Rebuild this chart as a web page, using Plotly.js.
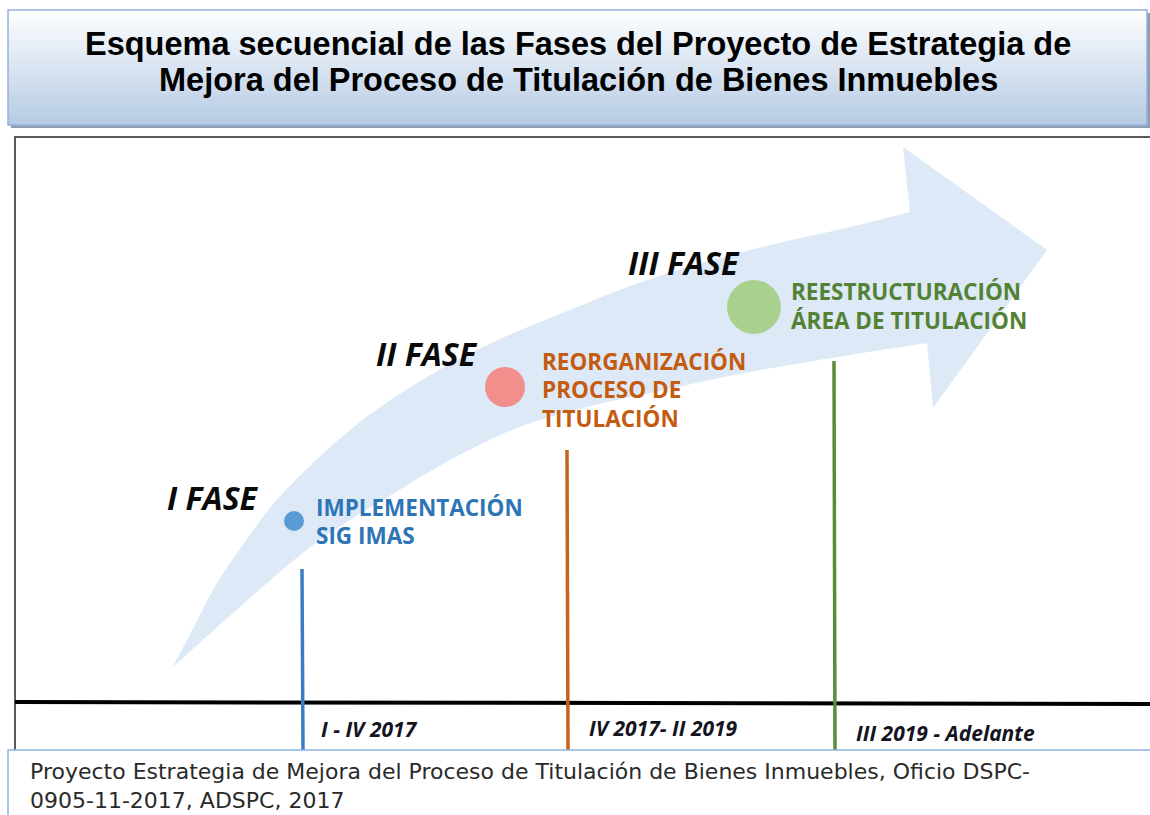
<!DOCTYPE html>
<html>
<head>
<meta charset="utf-8">
<script src="https://cdn.plot.ly/plotly-3.0.1.min.js"></script>
<style>
  html, body { margin: 0; padding: 0; background: #ffffff; }
  #chart { width: 1150px; height: 815px; }
</style>
</head>
<body>
<div id="chart"></div>
<script>
// ---------------- DATA ----------------
const titleLines = [
  "Esquema secuencial de las Fases del Proyecto de Estrategia de",
  "Mejora del Proceso de Titulación de Bienes Inmuebles"
];
const phases = ["I FASE", "II FASE", "III FASE"];
const actions = [
  ["IMPLEMENTACIÓN", "SIG IMAS"],
  ["REORGANIZACIÓN", "PROCESO DE", "TITULACIÓN"],
  ["REESTRUCTURACIÓN", "ÁREA DE TITULACIÓN"]
];
const periods = ["I - IV 2017", "IV 2017- II 2019", "III 2019 - Adelante"];
const sourceLines = [
  "Proyecto Estrategia de Mejora del Proceso de Titulación de Bienes Inmuebles, Oficio DSPC-",
  "0905-11-2017, ADSPC, 2017"
];

// ---------------- LAYOUT / STYLE CONFIG ----------------
const W = 1150, H = 815;
const dotPos = [[294, 521], [505, 387], [754, 307]];
const dotSize = [20, 40, 54];
const dotColors = ["#5b9bd5", "#f28e8c", "#a9d18e"];
const textColors = ["#2e75b6", "#c55a11", "#548235"];
const stemColors = ["#3b7dc0", "#c8621f", "#5b8c3a"];
const phasePos = [[165, 497], [374, 353], [626, 262]];
const actionPos = [[314, 507], [540, 361], [789, 291]];
const actionGap = [28, 28.5, 29];
const stemX = [302, 567, 834];
const stemTop = [569, 450, 361];
const stemBottom = 750;
const periodPos = [[319, 729], [587, 728], [854, 733]];

const arrowOuter = [[172,668],[195,625],[217,583],[250,535],[283,493],[350,430],[417,383],[483,347],[550,318],[650,279],[750,250],[850,227],[910,212]];
const arrowHead = [[903,147],[1047,250],[933,408],[927,343]];
const arrowInner = [[927,343],[850,355],[750,372],[650,393],[583,408],[517,428],[450,460],[383,500],[317,542],[250,598],[172,668]];

function smooth(pts) {
  let d = "";
  for (let i = 0; i < pts.length - 1; i++) {
    const p0 = pts[i - 1] || pts[i], p1 = pts[i], p2 = pts[i + 1], p3 = pts[i + 2] || pts[i + 1];
    const c1 = [p1[0] + (p2[0] - p0[0]) / 6, p1[1] + (p2[1] - p0[1]) / 6];
    const c2 = [p2[0] - (p3[0] - p1[0]) / 6, p2[1] - (p3[1] - p1[1]) / 6];
    d += ` C ${c1[0]},${c1[1]} ${c2[0]},${c2[1]} ${p2[0]},${p2[1]}`;
  }
  return d;
}
let arrowPath = `M ${arrowOuter[0][0]},${arrowOuter[0][1]}` + smooth(arrowOuter);
arrowHead.forEach(p => { arrowPath += ` L ${p[0]},${p[1]}`; });
arrowPath += smooth(arrowInner) + " Z";

const shapes = [];
// title box shadow
shapes.push({type: "rect", xref: "x", yref: "y", x0: 11, x1: 1151, y0: 13, y1: 128, fillcolor: "#8e9cae", line: {width: 0}, layer: "below"});
// gradient title box (strips)
const gTop = [253, 254, 255], gBot = [182, 203, 228];
const bx0 = 8, bx1 = 1147, by0 = 10, by1 = 125, nStrips = 46;
for (let i = 0; i < nStrips; i++) {
  const t = i / (nStrips - 1);
  const c = gTop.map((v, k) => Math.round(v + (gBot[k] - v) * t));
  const y0 = by0 + (by1 - by0) * i / nStrips, y1 = by0 + (by1 - by0) * (i + 1) / nStrips + 0.6;
  shapes.push({type: "rect", xref: "x", yref: "y", x0: bx0, x1: bx1, y0: y0, y1: y1,
    fillcolor: `rgb(${c[0]},${c[1]},${c[2]})`, line: {width: 0}, layer: "below"});
}
shapes.push({type: "rect", xref: "x", yref: "y", x0: bx0, x1: bx1, y0: by0, y1: by1, fillcolor: "rgba(0,0,0,0)", line: {color: "#95b3d7", width: 1.5}, layer: "below"});
// main panel border
shapes.push({type: "rect", xref: "x", yref: "y", x0: 15, x1: 1156, y0: 137, y1: 830, fillcolor: "#ffffff", line: {color: "#5a5a5a", width: 2}, layer: "below"});
// arrow
shapes.push({type: "path", xref: "x", yref: "y", path: arrowPath, fillcolor: "#dde9f6", line: {width: 0}, layer: "below"});
// baseline
shapes.push({type: "line", xref: "x", yref: "y", x0: 15, x1: 1152, y0: 702, y1: 704, line: {color: "#000000", width: 4}, layer: "below"});
// stems
stemX.forEach((x, i) => {
  shapes.push({type: "line", xref: "x", yref: "y", x0: x, x1: x + 1, y0: stemTop[i], y1: stemBottom, line: {color: stemColors[i], width: 3.5}, layer: "below"});
});
// footer box
shapes.push({type: "rect", xref: "x", yref: "y", x0: 8, x1: 1156, y0: 750, y1: 830, fillcolor: "#ffffff", line: {color: "#8db3e2", width: 1.5}, layer: "above"});

const annotations = [];
titleLines.forEach((t, i) => {
  annotations.push({x: 578, y: 44 + i * 36, xref: "x", yref: "y", text: "<b>" + t + "</b>", showarrow: false,
    xanchor: "center", yanchor: "middle",
    font: {family: "Liberation Sans, Arial, sans-serif", size: 32.5, color: "#000000"}});
});
phases.forEach((t, i) => {
  annotations.push({x: phasePos[i][0], y: phasePos[i][1], xref: "x", yref: "y", text: "<b><i>" + t + "</i></b>", showarrow: false,
    xanchor: "left", yanchor: "middle",
    font: {family: "Open Sans, sans-serif", size: 32, color: "#0a0a0a"}});
});
actions.forEach((lines, i) => {
  lines.forEach((t, j) => {
    annotations.push({x: actionPos[i][0], y: actionPos[i][1] + j * actionGap[i], xref: "x", yref: "y", text: "<b>" + t + "</b>", showarrow: false,
      xanchor: "left", yanchor: "middle",
      font: {family: "Open Sans, sans-serif", size: 22.5, color: textColors[i]}});
  });
});
periods.forEach((t, i) => {
  annotations.push({x: periodPos[i][0], y: periodPos[i][1], xref: "x", yref: "y", text: "<b><i>" + t + "</i></b>", showarrow: false,
    xanchor: "left", yanchor: "middle",
    font: {family: "Open Sans, sans-serif", size: 21, color: "#14141f"}});
});
annotations.push({x: 28, y: 757, xref: "x", yref: "y", text: sourceLines.join("<br>"), showarrow: false,
  xanchor: "left", yanchor: "top", align: "left",
  font: {family: "DejaVu Sans, sans-serif", size: 22, color: "#2a2a2a"}});

const traces = [{
  type: "scatter", mode: "markers",
  x: dotPos.map(p => p[0]), y: dotPos.map(p => p[1]),
  marker: {size: dotSize, color: dotColors, opacity: 1, line: {width: 0}},
  hoverinfo: "skip", showlegend: false
}];

const layout = {
  width: W, height: H,
  margin: {l: 0, r: 0, t: 0, b: 0},
  paper_bgcolor: "#ffffff", plot_bgcolor: "rgba(0,0,0,0)",
  xaxis: {range: [0, W], visible: false, fixedrange: true},
  yaxis: {range: [H, 0], visible: false, fixedrange: true},
  shapes: shapes, annotations: annotations, showlegend: false
};
Plotly.newPlot("chart", traces, layout, {displayModeBar: false, staticPlot: true});
</script>
</body>
</html>
